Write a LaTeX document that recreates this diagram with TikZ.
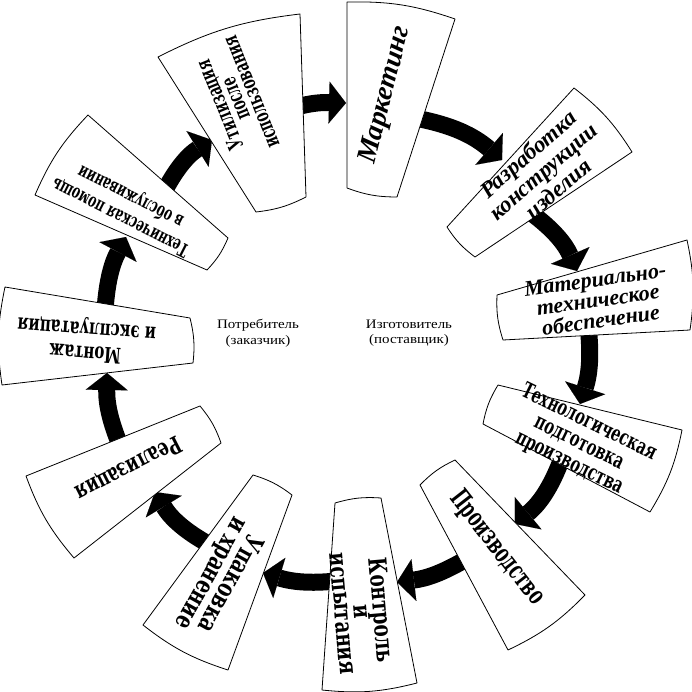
\documentclass[tikz,border=0pt]{standalone}
\usepackage{fontspec}
\setmainfont{Liberation Serif}
\newfontfamily\slab{DejaVu Serif}
\usetikzlibrary{arrows.meta}
\tikzset{
  box/.style={draw, fill=white, line width=0.8pt, line join=round},
  arr/.style={line width=17pt, -{Triangle[length=17pt,width=42pt,line width=0.01pt]}},
  mtxt/.style={align=center, inner sep=0pt},
  ctxt/.style={align=center, inner sep=0pt, xscale=1.15, font=\fontsize{13}{15.5}\selectfont},
}
\newcommand{\mf}[2]{\slab\bfseries\fontsize{#1}{#2}\selectfont}
\newcommand{\itf}[2]{\bfseries\itshape\fontsize{#1}{#2}\selectfont}
\begin{document}
\begin{tikzpicture}[x=1pt,y=-1pt]
\useasboundingbox (0,0) rectangle (692,692);
% arrow end points
\coordinate (a1s) at (265,118);  \coordinate (a1e) at (346,103);
\coordinate (a2s) at (415,118);  \coordinate (a2e) at (502,160);
\coordinate (a3s) at (530,212);  \coordinate (a3e) at (577,271);
\coordinate (a4s) at (588,325);  \coordinate (a4e) at (580,404);
\coordinate (a5s) at (562,458);  \coordinate (a5e) at (515,524);
\coordinate (a6s) at (468,558);  \coordinate (a6e) at (397,582);
\coordinate (a7s) at (345,580);  \coordinate (a7e) at (263,573);
\coordinate (a8s) at (210,545);  \coordinate (a8e) at (155,492);
\coordinate (a9s) at (122,450);  \coordinate (a9e) at (107,373);
\coordinate (a10s) at (105,310); \coordinate (a10e) at (126,237);
\coordinate (a11s) at (165,190); \coordinate (a11e) at (212,140);
% arrows
\draw[arr] (a1s) to[bend left=12] (a1e);
\draw[arr] (a2s) to[bend left=15] (a2e);
\draw[arr] (a3s) to[bend left=15] (a3e);
\draw[arr] (a4s) to[bend left=12] (a4e);
\draw[arr] (a5s) to[bend left=15] (a5e);
\draw[arr] (a6s) to[bend left=12] (a6e);
\draw[arr] (a7s) to[bend left=12] (a7e);
\draw[arr] (a8s) to[bend left=15] (a8e);
\draw[arr] (a9s) to[bend left=12] (a9e);
\draw[arr] (a10s) to[bend left=12] (a10e);
\draw[arr] (a11s) to[bend left=15] (a11e);
% boxes
\draw[box] (158,57) to[bend left=10] (300,14) -- (306,197) to[bend left=10] (256,212) -- cycle;
\draw[box] (347,2) to[bend left=10] (455,19) -- (397,197) to[bend left=10] (347,188) -- cycle;
\draw[box] (574,88) to[bend left=10] (632,152) -- (475,257) to[bend left=10] (447,227) -- cycle;
\draw[box] (687,240) to[bend left=10] (690,330) -- (503,340) to[bend left=10] (497,295) -- cycle;
\draw[box] (682,430) to[bend left=10] (650,512) -- (483,424) to[bend left=10] (498,385) -- cycle;
\draw[box] (585,595) to[bend left=10] (508,650) -- (420,485) to[bend left=10] (455,460) -- cycle;
\draw[box] (335,503) to[bend left=10] (381,498) -- (417,683) to[bend left=10] (322,690) -- cycle;
\draw[box] (253,475) to[bend left=10] (292,495) -- (228,670) to[bend left=10] (143,625) -- cycle;
\draw[box] (200,406) to[bend left=10] (221,443) -- (74,558) to[bend left=10] (26,476) -- cycle;
\draw[box] (190,318) to[bend left=10] (193,363) -- (2,385) to[bend left=10] (5,287) -- cycle;
\draw[box] (228,238) to[bend left=10] (207,270) -- (35,195) to[bend left=10] (88,115) -- cycle;
% texts
\node[mtxt, rotate=112, yscale=1.6, font=\mf{13.2}{10.6}] (t1) at (235,99) {Утилизация\\после\\использования};
\node[mtxt, rotate=76, font=\itf{28}{28}] (t2) at (386,95) {Маркетинг};
\node[mtxt, rotate=41, font=\itf{23}{23}] (t3) at (543,171) {Разработка\\конструкции\\изделия};
\node[mtxt, rotate=8, font=\itf{22}{20.5}] (t4) at (598,300) {Материально-\\техническое\\обеспечение};
\node[mtxt, rotate=-26, yscale=1.5, font=\mf{14.5}{15}] (t5) at (579,443) {Технологическая\\подготовка\\производства};
\node[mtxt, rotate=-52, yscale=1.6, font=\mf{16.5}{16}] (t6) at (497,548) {Производство};
\node[mtxt, rotate=-85, yscale=1.35, font=\mf{18.5}{14.2}] (t7) at (363,612) {Контроль\\и\\испытания};
\node[mtxt, rotate=-119, yscale=1.35, font=\mf{19}{15.6}] (t8) at (220,578) {Упаковка\\и хранение};
\node[mtxt, rotate=-153, yscale=1.45, font=\mf{16.5}{16}] (t9) at (128,468) {Реализация};
\node[mtxt, rotate=176, yscale=1.45, font=\mf{15}{16.5}] (t10) at (86,340) {Монтаж\\и эксплуатация};
\node[mtxt, rotate=153, yscale=1.6, font=\mf{12}{14.2}] (t11) at (126,206) {Техническая помощь\\в обслуживании};
\node[ctxt] (c1) at (258,333) {Потребитель\\(заказчик)};
\node[ctxt] (c2) at (409,333) {Изготовитель\\(поставщик)};
\end{tikzpicture}
\end{document}
